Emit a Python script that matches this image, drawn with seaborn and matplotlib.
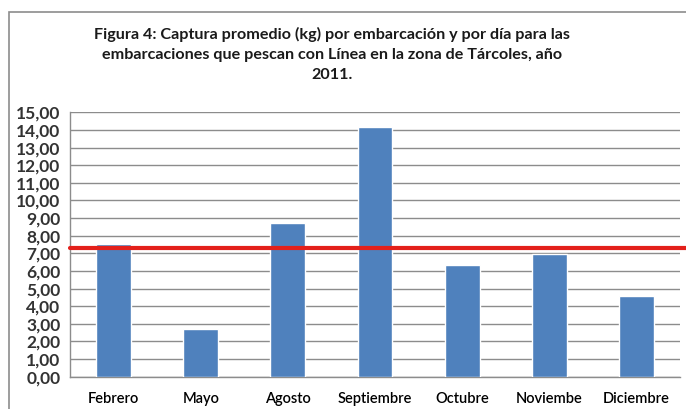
import matplotlib
matplotlib.use("Agg")
import matplotlib.pyplot as plt
import seaborn as sns
import pandas as pd
from matplotlib.patches import Rectangle
from matplotlib.ticker import MultipleLocator, FuncFormatter

# values
meses = ["Febrero", "Mayo", "Agosto", "Septiembre", "Octubre", "Noviembe", "Diciembre"]
captura = [7.51, 2.72, 8.70, 14.18, 6.35, 6.94, 4.58]
promedio = 7.28

titulo = ("Figura 4: Captura promedio (kg) por embarcación y por día para las\n"
          "embarcaciones que pescan con Línea en la zona de Tárcoles, año\n"
          "2011.")

sns.set_style("white")
plt.rcParams['font.family'] = ['Lato', 'DejaVu Sans']

df = pd.DataFrame({"mes": meses, "kg": captura})

fig = plt.figure(figsize=(6.86, 4.09), dpi=100)
ax = fig.add_axes([70/686, 1 - 376.7/409, 610/686, (376.7 - 112.3)/409])

sns.barplot(data=df, x="mes", y="kg", color="#4F81BD", saturation=1,
            width=0.40, ax=ax, zorder=3)

ax.set_ylim(0, 15)
ax.set_xlim(-0.5, len(meses) - 0.5)
ax.yaxis.set_major_locator(MultipleLocator(1))
ax.yaxis.set_major_formatter(FuncFormatter(lambda v, p: f"{v:.2f}".replace(".", ",")))
ax.grid(axis="y", color="#8c8c8c", lw=1, zorder=0)
ax.set_xlabel("")
ax.set_ylabel("")

for s in ["top", "right"]:
    ax.spines[s].set_visible(False)
for s in ["left", "bottom"]:
    ax.spines[s].set_color("#8c8c8c")
    ax.spines[s].set_linewidth(1)

# category-boundary ticks on x, ticks on y
ax.set_xticks(range(len(meses)))
ax.set_xticklabels(meses)
ax.set_xticks([i - 0.5 for i in range(len(meses) + 1)], minor=True)
ax.tick_params(axis="x", which="major", length=0, pad=11, labelsize=10.5)
ax.tick_params(axis="x", which="minor", length=4, color="#8c8c8c", direction="out")
ax.tick_params(axis="y", length=5, color="#8c8c8c", direction="out", pad=2, labelsize=12.5)
for lbl in ax.get_yticklabels():
    lbl.set_fontweight("bold")
    lbl.set_color("#333333")
for lbl in ax.get_xticklabels():
    lbl.set_color("#000000")
    lbl.set_fontweight("semibold")

# red average line, extends a bit past the plot area
ax.axhline(promedio, xmin=0, xmax=1.01, color="#E3201B", lw=3, zorder=5, clip_on=False)

fig.text(332/686, 1 - 27/409, titulo, ha="center", va="top", fontsize=11.6,
         fontweight="bold", linespacing=1.55, color="#1a1a1a")

# chart frame
fig.patches.append(Rectangle((9/686, -0.05), 1.1, 1.05 - 12/409, transform=fig.transFigure,
                             fill=False, edgecolor="#8c8c8c", lw=1.2))

fig.savefig("out.png", dpi=100)
